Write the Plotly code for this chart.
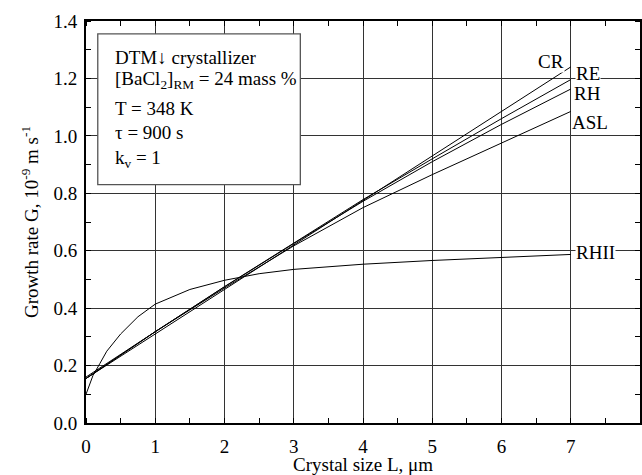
import plotly.graph_objects as go

# ---- data ----
L_lin = [0, 1, 2, 3, 4, 5, 6, 7]
G_CR = [0.155, 0.31, 0.465, 0.62, 0.775, 0.93, 1.085, 1.24]
G_RE = [0.155, 0.318, 0.475, 0.628, 0.778, 0.92, 1.06, 1.196]
G_RH = [0.155, 0.318, 0.474, 0.625, 0.772, 0.91, 1.04, 1.163]
G_ASL = [0.16, 0.318, 0.47, 0.617, 0.75, 0.865, 0.975, 1.085]

L_RHII = [0, 0.1, 0.2, 0.3, 0.5, 0.75, 1.0, 1.5, 2.0, 2.5, 3, 4, 5, 6, 7]
G_RHII = [0.10, 0.165, 0.207, 0.25, 0.31, 0.37, 0.414, 0.465, 0.497, 0.52, 0.535, 0.553, 0.566, 0.577, 0.587]

series = [("CR", L_lin, G_CR), ("RE", L_lin, G_RE), ("RH", L_lin, G_RH),
          ("ASL", L_lin, G_ASL), ("RHII", L_RHII, G_RHII)]

# label positions (data coords)
label_pos = {"CR": (6.71, 1.26), "RE": (7.25, 1.218), "RH": (7.24, 1.149),
             "ASL": (7.28, 1.048), "RHII": (7.36, 0.594)}

info_lines = ["DTM\u2193 crystallizer",
              "[BaCl<sub>2</sub>]<sub>RM</sub> = 24 mass %",
              "T = 348 K",
              "\u03c4 = 900 s",
              "k<sub>v</sub> = 1"]
info_y = [1.274, 1.194, 1.094, 1.011, 0.920]

FONT = "'Times New Roman', 'Liberation Serif', Times, serif"

fig = go.Figure()
for name, xs, ys in series:
    fig.add_trace(go.Scatter(x=xs, y=ys, mode="lines", name=name,
                             line=dict(color="black", width=1),
                             hoverinfo="skip", showlegend=False))

for name, (lx, ly) in label_pos.items():
    fig.add_annotation(x=lx, y=ly, text=name, showarrow=False,
                       font=dict(family=FONT, size=19, color="black"),
                       bgcolor="white", borderpad=0,
                       xanchor="center", yanchor="middle")

# info box
fig.add_shape(type="rect", xref="x", yref="y", x0=0.17, x1=3.095, y0=0.83, y1=1.355,
              line=dict(color="#555555", width=1.3), fillcolor="white", layer="above")
for t, yy in zip(info_lines, info_y):
    fig.add_annotation(x=0.39, y=yy, text=t, showarrow=False,
                       font=dict(family=FONT, size=19, color="black"),
                       xanchor="left", yanchor="middle")

axis_common = dict(
    showline=True, linecolor="black", linewidth=2, mirror="allticks",
    showgrid=True, gridcolor="#333333", gridwidth=1, zeroline=False,
    tickfont=dict(family=FONT, size=19, color="black"), automargin=False,
)

fig.update_xaxes(range=[0, 8], dtick=1, tick0=0,
                 ticks="outside", ticklen=5, tickwidth=1, tickcolor="white",
                 minor=dict(dtick=0.5, ticks="inside", ticklen=5, tickwidth=1.3,
                            tickcolor="black", showgrid=False),
                 title=dict(text="Crystal size L, \u03bcm", font=dict(family=FONT, size=19, color="black"),
                            standoff=0),
                 **axis_common)
fig.update_yaxes(range=[0, 1.4], dtick=0.2, tick0=0, tickformat=".1f",
                 ticks="outside", ticklen=3, tickwidth=1, tickcolor="white",
                 minor=dict(dtick=0.1, ticks="inside", ticklen=5, tickwidth=1.3,
                            tickcolor="black", showgrid=False),
                 title=dict(text="Growth rate G, 10<sup>-9</sup> m s<sup>-1</sup>",
                            font=dict(family=FONT, size=19, color="black"), standoff=10),
                 **axis_common)

fig.update_layout(width=642, height=475,
                  margin=dict(l=86, r=2, t=21, b=52),
                  plot_bgcolor="white", paper_bgcolor="white",
                  showlegend=False)

fig.write_html("out.html", config={"displayModeBar": False},
               post_script="document.body.style.margin='0';document.body.style.overflow='hidden';")
